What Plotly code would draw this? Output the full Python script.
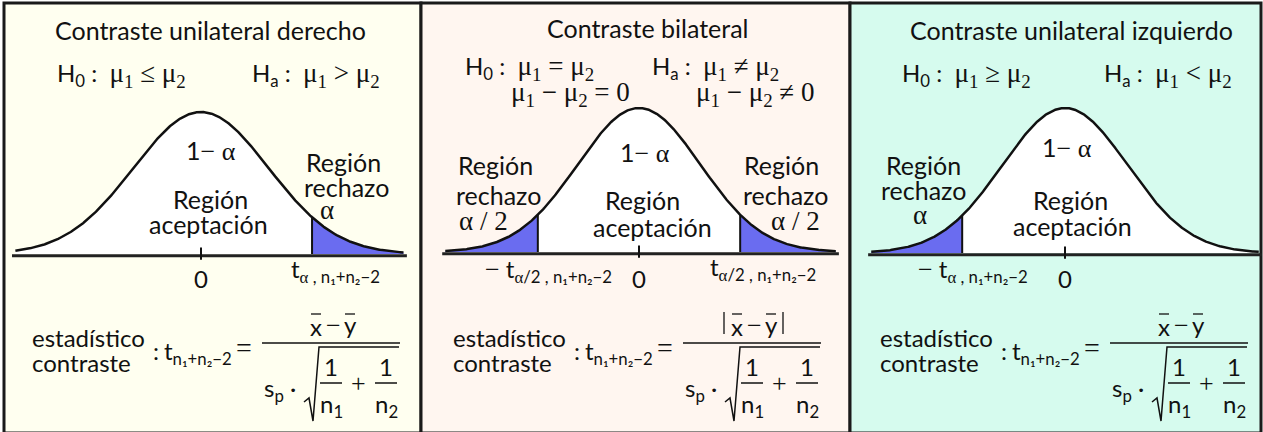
import numpy as np
import plotly.graph_objects as go

W, H = 1263, 432

# ---------------- data ----------------
panel_titles = ["Contraste unilateral derecho", "Contraste bilateral", "Contraste unilateral izquierdo"]
crit_lower = [None, -1.645, -1.645]      # lower critical value (in standard units)
crit_upper = [1.645, 1.645, None]        # upper critical value
curve_left_sd = [-2.75, -3.15, -3.1]     # where the drawn curve starts
curve_right_sd = [3.0, 3.2, 3.1]         # where the drawn curve ends
reject_labels = ["α", "α / 2", "α"]
h0_text = ["μ<sub>1</sub> ≤ μ<sub>2</sub>", "μ<sub>1</sub> = μ<sub>2</sub>", "μ<sub>1</sub> ≥ μ<sub>2</sub>"]
ha_text = ["μ<sub>1</sub> > μ<sub>2</sub>", "μ<sub>1</sub> ≠ μ<sub>2</sub>", "μ<sub>1</sub> < μ<sub>2</sub>"]

# ---------------- layout / style ----------------
bg = ["#fffff0", "#fff6f0", "#d6fbee"]
panel_x = [(4, 421), (421, 850), (850, 1261)]
center_px = [201, 639, 1065]
sigma_px = [67.5, 61.5, 62.5]
base_px = [254, 252, 253]
peak_px = [112, 108, 108]
form_dx = [0, 421, 848]
BLUE = "#6a6cf0"
SANS = "Lato"
SERIF = "Liberation Serif"
T_TITLE, T_H, T_LAB, T_FORM = 25, 24, 25, 24

def serif(s, size=None):
    st = f"font-family:{SERIF}"
    if size:
        st += f";font-size:{size}px"
    return f"<span style='{st}'>{s}</span>"

fig = go.Figure()
fig.add_trace(go.Scatter(x=[0], y=[0], mode="markers", marker=dict(opacity=0), xaxis="x", yaxis="y",
                         hoverinfo="skip", showlegend=False))

shapes = []
annots = []

def ann(x, y, text, size=21, xanchor="center", family=SANS):
    annots.append(dict(x=x, y=y, xref="x", yref="y", text=text, showarrow=False,
                       xanchor=xanchor, yanchor="middle",
                       font=dict(family=family, size=size, color="#111111")))

def line(x0, y0, x1, y1, w=1.5):
    shapes.append(dict(type="line", x0=x0, y0=y0, x1=x1, y1=y1, xref="x", yref="y",
                       line=dict(color="#111111", width=w), layer="above"))

for k in range(3):
    x0, x1 = panel_x[k]
    shapes.append(dict(type="rect", xref="paper", yref="paper", x0=x0 / W, x1=x1 / W,
                       y0=1 - 433 / H, y1=1 - 3 / H, fillcolor=bg[k],
                       line=dict(color="#1a1a1a", width=3), layer="below"))

    ax = k + 2
    c, s, yb, yp = center_px[k], sigma_px[k], base_px[k], peak_px[k]
    hp = yb - yp
    fig.layout[f"xaxis{ax}"] = dict(domain=[0, 1], range=[(0 - c) / s, (W - c) / s], visible=False,
                                     anchor=f"y{ax}", fixedrange=True)
    fig.layout[f"yaxis{ax}"] = dict(domain=[0, 1], range=[(yb - H) / hp, yb / hp], visible=False,
                                     anchor=f"x{ax}", fixedrange=True)
    xa, ya = f"x{ax}", f"y{ax}"
    xs = np.linspace(curve_left_sd[k], curve_right_sd[k], 500)
    ys = np.exp(-xs ** 2 / 2)
    fig.add_trace(go.Scatter(x=xs, y=ys, fill="tozeroy", fillcolor="white", mode="none",
                             xaxis=xa, yaxis=ya, hoverinfo="skip", showlegend=False))
    if crit_upper[k] is not None:
        m = xs >= crit_upper[k]
        xt = np.concatenate([[crit_upper[k]], xs[m]])
        fig.add_trace(go.Scatter(x=xt, y=np.exp(-xt ** 2 / 2), fill="tozeroy", fillcolor=BLUE, mode="none",
                                 xaxis=xa, yaxis=ya, hoverinfo="skip", showlegend=False))
        fig.add_trace(go.Scatter(x=[crit_upper[k]] * 2, y=[0, np.exp(-crit_upper[k] ** 2 / 2)], mode="lines",
                                 line=dict(color="#111111", width=2), xaxis=xa, yaxis=ya,
                                 hoverinfo="skip", showlegend=False))
    if crit_lower[k] is not None:
        m = xs <= crit_lower[k]
        xt = np.concatenate([xs[m], [crit_lower[k]]])
        fig.add_trace(go.Scatter(x=xt, y=np.exp(-xt ** 2 / 2), fill="tozeroy", fillcolor=BLUE, mode="none",
                                 xaxis=xa, yaxis=ya, hoverinfo="skip", showlegend=False))
        fig.add_trace(go.Scatter(x=[crit_lower[k]] * 2, y=[0, np.exp(-crit_lower[k] ** 2 / 2)], mode="lines",
                                 line=dict(color="#111111", width=2), xaxis=xa, yaxis=ya,
                                 hoverinfo="skip", showlegend=False))
    fig.add_trace(go.Scatter(x=xs, y=ys, mode="lines", line=dict(color="#111111", width=2.5),
                             xaxis=xa, yaxis=ya, hoverinfo="skip", showlegend=False))
    fig.add_trace(go.Scatter(x=[curve_left_sd[k] - 0.05, curve_right_sd[k] + 0.05], y=[-0.012, -0.012],
                             mode="lines", line=dict(color="#222222", width=3),
                             xaxis=xa, yaxis=ya, hoverinfo="skip", showlegend=False))
    fig.add_trace(go.Scatter(x=[0, 0], y=[-0.04, 0.045], mode="lines", line=dict(color="#111111", width=2),
                             xaxis=xa, yaxis=ya, hoverinfo="skip", showlegend=False))

    # formula
    d = form_dx[k]
    ann(30 + d, 337, "estadístico", T_FORM, "left")
    ann(30 + d, 362, "contraste", T_FORM, "left")
    ann(156 + d, 350, ":", T_FORM)
    ann(162 + d, 352, "t<sub>n₁+n₂−2</sub>", T_FORM, "left")
    ann(244 + d, 347, serif("=", 28), T_FORM)
    line(262 + d, 343, 400 + d, 343)
    ann(316 + d, 326, "x", T_FORM)
    ann(333 + d, 325, serif("−", 26), T_FORM)
    ann(350 + d, 324, "y", T_FORM)
    line(311 + d, 314, 321 + d, 314, 1.3)
    line(345 + d, 314, 355 + d, 314, 1.3)
    if k == 1:
        line(303 + d, 312, 303 + d, 334, 1.3)
        line(362 + d, 312, 362 + d, 334, 1.3)
    ann(262 + d, 389, "s<sub>p</sub> ·", T_FORM, "left")
    shapes.append(dict(type="path", xref="x", yref="y",
                       path=f"M {304 + d},402 L {309 + d},398 L {313 + d},421 L {319 + d},347 L {399 + d},347",
                       line=dict(color="#111111", width=1.5), layer="above"))
    ann(331 + d, 366, "1", T_FORM)
    line(320 + d, 383, 342 + d, 383)
    ann(331 + d, 405, "n<sub>1</sub>", T_FORM)
    ann(358 + d, 383, serif("+", 26), T_FORM)
    ann(386 + d, 366, "1", T_FORM)
    line(375 + d, 383, 397 + d, 383)
    ann(386 + d, 405, "n<sub>2</sub>", T_FORM)

MU = 27
# ---------- left panel texts ----------
ann(210, 30, panel_titles[0], T_TITLE)
ann(55, 75, "H<sub>0</sub> :  " + serif(h0_text[0], MU), T_H, "left")
ann(250, 75, "H<sub>a</sub> :  " + serif(ha_text[0], MU), T_H, "left")
ann(211, 150, "1" + serif("− α", 26), T_LAB)
ann(210, 199, "Región", T_LAB)
ann(208, 224, "aceptación", T_LAB)
ann(343, 162, "Región", T_LAB)
ann(346, 187, "rechazo", T_LAB)
ann(327, 210, serif(reject_labels[0], 27), T_LAB)
ann(201, 278, "0", T_FORM)
ann(289, 270, "t<sub>" + serif("α") + " , n₁+n₂−2</sub>", T_FORM, "left")

# ---------- middle panel texts ----------
ann(648, 28, panel_titles[1], T_TITLE)
ann(463, 68, "H<sub>0</sub> :  " + serif(h0_text[1], MU), T_H, "left")
ann(509, 94, serif("μ<sub>1</sub> − μ<sub>2</sub> = 0", MU), T_H, "left")
ann(650, 68, "H<sub>a</sub> :  " + serif(ha_text[1], MU), T_H, "left")
ann(694, 94, serif("μ<sub>1</sub> − μ<sub>2</sub> ≠ 0", MU), T_H, "left")
ann(645, 152, "1" + serif("− α", 26), T_LAB)
ann(495, 165, "Región", T_LAB)
ann(498, 195, "rechazo", T_LAB)
ann(483, 221, serif(reject_labels[1], 27), T_LAB)
ann(642, 200, "Región", T_LAB)
ann(652, 227, "aceptación", T_LAB)
ann(781, 165, "Región", T_LAB)
ann(785, 195, "rechazo", T_LAB)
ann(795, 221, serif(reject_labels[1], 27), T_LAB)
ann(483, 270, serif("−", 26) + " t<sub>" + serif("α") + "/2 , n₁+n₂−2</sub>", T_FORM, "left")
ann(639, 278, "0", T_FORM)
ann(708, 268, "t<sub>" + serif("α") + "/2 , n₁+n₂−2</sub>", T_FORM, "left")

# ---------- right panel texts ----------
ann(1071, 30, panel_titles[2], T_TITLE)
ann(900, 75, "H<sub>0</sub> :  " + serif(h0_text[2], MU), T_H, "left")
ann(1102, 75, "H<sub>a</sub> :  " + serif(ha_text[2], MU), T_H, "left")
ann(1067, 147, "1" + serif("− α", 26), T_LAB)
ann(923, 165, "Región", T_LAB)
ann(923, 190, "rechazo", T_LAB)
ann(920, 215, serif(reject_labels[2], 27), T_LAB)
ann(1070, 200, "Región", T_LAB)
ann(1072, 226, "aceptación", T_LAB)
ann(916, 270, serif("−", 26) + " t<sub>" + serif("α") + " , n₁+n₂−2</sub>", T_FORM, "left")
ann(1065, 278, "0", T_FORM)

fig.update_layout(
    width=W, height=H, margin=dict(l=0, r=0, t=0, b=0),
    paper_bgcolor="white", plot_bgcolor="rgba(0,0,0,0)",
    xaxis=dict(domain=[0, 1], range=[0, W], visible=False, fixedrange=True),
    yaxis=dict(domain=[0, 1], range=[H, 0], visible=False, fixedrange=True),
    shapes=shapes, annotations=annots, showlegend=False,
)
fig.write_html("out.html", config={"displayModeBar": False},
               post_script="document.body.style.margin='0px';document.body.style.padding='0px';")
